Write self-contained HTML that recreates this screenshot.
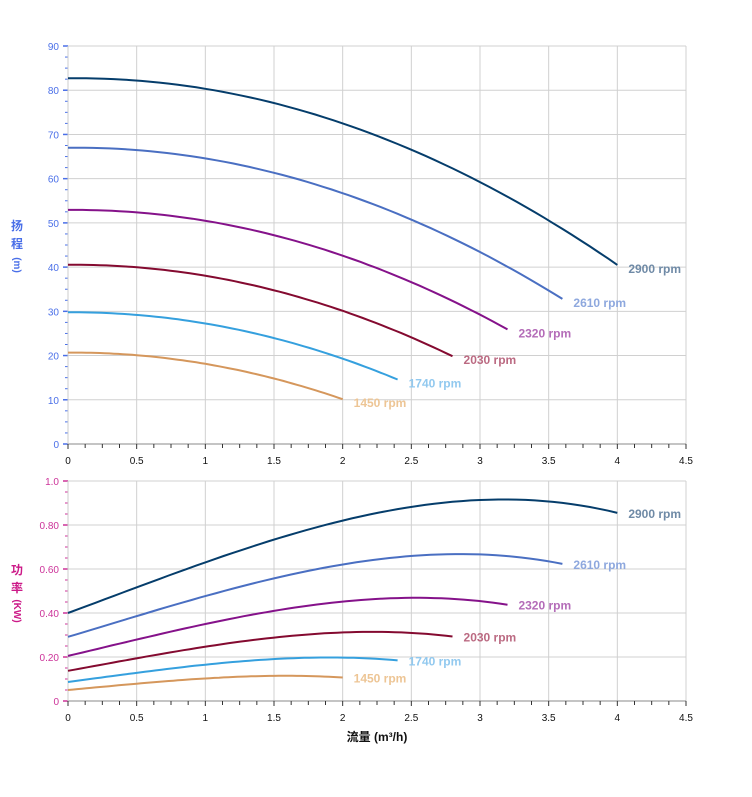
<!DOCTYPE html>
<html><head><meta charset="utf-8"><style>
body{margin:0;background:#fff;}
svg{display:block;font-family:"Liberation Sans","Noto Sans CJK SC",sans-serif;}
</style></head><body>
<svg id="s" width="752" height="797" xmlns="http://www.w3.org/2000/svg"></svg>
<script>
const s=document.getElementById('s');let h='';
const X0=68,X1=686,sx=(X1-X0)/4.5;
const T0=444,T1=46,sy=(T0-T1)/90;
const B0=701,B1=481,by=(B0-B1)/1;
const X=q=>X0+q*sx;
// grid
for(let i=0;i<=9;i++){const x=X(i*0.5);h+=`<line x1="${x}" y1="${T1}" x2="${x}" y2="${T0}" stroke="#d0d0d0"/><line x1="${x}" y1="${B1}" x2="${x}" y2="${B0}" stroke="#d0d0d0"/>`;}
for(let i=0;i<=9;i++){const y=T0-i*10*sy;h+=`<line x1="${X0}" y1="${y}" x2="${X1}" y2="${y}" stroke="#d0d0d0"/>`;
h+=`<text x="${X0-9}" y="${y+4}" font-size="10" fill="#4a6fe8" text-anchor="end">${i*10}</text><line x1="${X0-5}" y1="${y}" x2="${X0}" y2="${y}" stroke="#4a6fe8" stroke-width="1.5"/>`;
if(i<9)for(let k=1;k<4;k++){const yy=y-k*2.5*sy;h+=`<line x1="${X0-3}" y1="${yy}" x2="${X0}" y2="${yy}" stroke="#4a6fe8"/>`;}}
const pl=['0','0.20','0.40','0.60','0.80','1.0'];
for(let i=0;i<=5;i++){const y=B0-i*0.2*by;h+=`<line x1="${X0}" y1="${y}" x2="${X1}" y2="${y}" stroke="#d0d0d0"/>`;
h+=`<text x="${X0-9}" y="${y+4}" font-size="10" fill="#cc3399" text-anchor="end">${pl[i]}</text><line x1="${X0-5}" y1="${y}" x2="${X0}" y2="${y}" stroke="#cc3399" stroke-width="1.5"/>`;
if(i<5)for(let k=1;k<4;k++){const yy=y-k*0.05*by;h+=`<line x1="${X0-3}" y1="${yy}" x2="${X0}" y2="${yy}" stroke="#cc3399"/>`;}}
// axes
[[T0],[B0]].forEach(([y0])=>{h+=`<line x1="${X0}" y1="${y0}" x2="${X1}" y2="${y0}" stroke="#888"/>`;
for(let i=0;i<=36;i++){const x=X(i*0.125);h+=`<line x1="${x}" y1="${y0}" x2="${x}" y2="${y0+(i%4==0?5:4)}" stroke="#333"/>`;}
for(let i=0;i<=9;i++){h+=`<text x="${X(i*0.5)}" y="${y0+20}" font-size="10" fill="#111" text-anchor="middle">${i*0.5}</text>`;}});
h+=`<line x1="${X0}" y1="${T1}" x2="${X0}" y2="${T0}" stroke="#ccc"/><line x1="${X0}" y1="${B1}" x2="${X0}" y2="${B0}" stroke="#ccc"/>`;
const H=q=>82.7+0.35*q-2.725*q*q;
const P=q=>0.40+0.23125*q+0.008125*q*q-0.009375*q*q*q;
const ser=[[2900,1,'#053d6b','#6f8aa6'],[2610,.9,'#4a6fc2','#8ea8de'],[2320,.8,'#85128a','#b46cb8'],[2030,.7,'#840a30','#bb6a82'],[1740,.6,'#35a0de','#92c9ef'],[1450,.5,'#d5975c','#edc595']];
ser.forEach(([n,r,c,lc])=>{let a='',b='';const qe=4*r;
for(let i=0;i<=60;i++){const q=qe*i/60;a+=(i?'L':'M')+X(q).toFixed(1)+','+(T0-r*r*H(q/r)*sy).toFixed(1);b+=(i?'L':'M')+X(q).toFixed(1)+','+(B0-r*r*r*P(q/r)*by).toFixed(1);}
h+=`<path d="${a}" fill="none" stroke="${c}" stroke-width="2"/><path d="${b}" fill="none" stroke="${c}" stroke-width="2"/>`;
const ly=T0-r*r*H(4)*sy, py=B0-r*r*r*P(4)*by;
h+=`<text x="${X(qe)+11}" y="${ly+8}" font-size="12" font-weight="bold" fill="${lc}">${n} rpm</text>`;
h+=`<text x="${X(qe)+11}" y="${py+5}" font-size="12" font-weight="bold" fill="${lc}">${n} rpm</text>`;});
// titles
h+=`<text x="17" y="230" font-size="12" font-weight="bold" fill="#4a6fe8" text-anchor="middle">扬</text><text x="17" y="248" font-size="12" font-weight="bold" fill="#4a6fe8" text-anchor="middle">程</text><text x="17" y="268" font-size="10" font-weight="bold" fill="#4a6fe8" text-anchor="middle" transform="rotate(90 17 265)">(m)</text>`;
h+=`<text x="17" y="574" font-size="12" font-weight="bold" fill="#cc1a88" text-anchor="middle">功</text><text x="17" y="592" font-size="12" font-weight="bold" fill="#cc1a88" text-anchor="middle">率</text><text x="17" y="614" font-size="10" font-weight="bold" fill="#cc1a88" text-anchor="middle" transform="rotate(90 17 611)">(KW)</text>`;
h+=`<text x="377" y="741" font-size="12" font-weight="bold" fill="#111" text-anchor="middle">流量 (m³/h)</text>`;
s.innerHTML=h;
</script>
</body></html>
